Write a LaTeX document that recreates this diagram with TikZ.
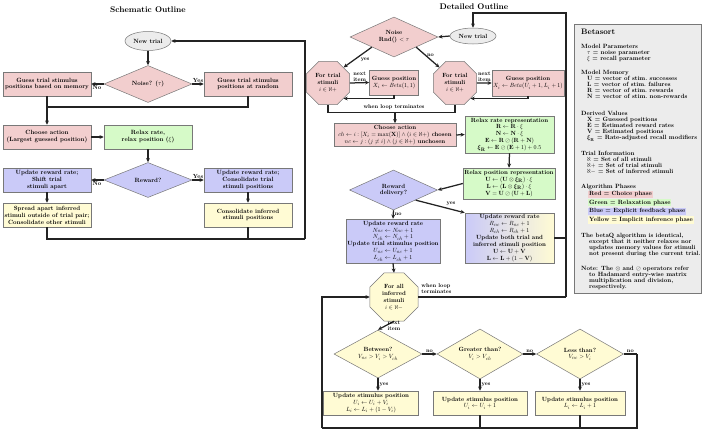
\documentclass[tikz,border=0pt]{standalone}
\usepackage{amsmath,amssymb}
\usetikzlibrary{shapes.geometric,arrows.meta,calc}
{\fontencoding{TU}\fontfamily{lmr}\fontseries{bx}\selectfont\fontseries{m}\selectfont}
\DeclareFontShape{TU}{lmr}{m}{n}{<->"[lmroman10-regular]:mapping=tex-text;"}{}
\DeclareFontShape{TU}{lmr}{bx}{n}{<->"[lmroman10-bold]:mapping=tex-text;"}{}
\DeclareFontShape{OT1}{cmr}{m}{n}{<->cmr10}{}
\DeclareFontShape{OT1}{cmr}{bx}{n}{<->cmbx10}{}
\DeclareFontShape{OT1}{cmr}{m}{it}{<->cmti10}{}
\DeclareFontShape{OML}{cmm}{m}{it}{<->cmmi10}{}
\DeclareFontShape{OML}{cmm}{b}{it}{<->cmmib10}{}
\DeclareFontShape{OMS}{cmsy}{m}{n}{<->cmsy10}{}
\DeclareFontShape{OMS}{cmsy}{b}{n}{<->cmbsy10}{}
\definecolor{pinkc}{RGB}{242,206,206}
\definecolor{greenc}{RGB}{214,250,200}
\definecolor{bluec}{RGB}{202,202,248}
\definecolor{yellowc}{RGB}{255,251,212}
\definecolor{grayc}{RGB}{236,236,236}
\definecolor{linec}{RGB}{35,35,35}
\definecolor{bordc}{RGB}{120,120,120}
\newcommand{\schfont}{\fontsize{6.1}{6.9}\selectfont\bfseries}
\newcommand{\detfont}{\fontsize{6.0}{6.9}\selectfont\bfseries}
\newcommand{\sidefont}{\fontsize{6.1}{6.0}\selectfont\bfseries}
\newcommand{\titfont}{\fontsize{8.2}{9}\selectfont\bfseries}
\newcommand{\slblfont}{\fontsize{5.9}{6}\selectfont\bfseries}
\newcommand{\dlblfont}{\fontsize{5.6}{5.9}\selectfont\bfseries}
\begin{document}
\begin{tikzpicture}[x=1pt,y=-1pt,
  base/.style={draw=bordc, line width=0.5pt, align=center, inner sep=1pt},
  sbox/.style={base, rectangle, minimum width=88pt, minimum height=24pt, font=\schfont},
  dbox/.style={base, rectangle, font=\detfont, inner sep=0.6pt},
  dia/.style={base, diamond, aspect=2, inner sep=0pt},
  oct/.style={base, regular polygon, regular polygon sides=8, inner sep=0pt, font=\detfont},
  ell/.style={base, ellipse, fill=grayc, inner sep=0pt},
  arr/.style={draw=linec, line width=1.25pt, -{Stealth[length=4.2pt,width=3.8pt]}},
  ln/.style={draw=linec, line width=1.25pt},
  slbl/.style={font=\slblfont, inner sep=1pt},
  dlbl/.style={font=\dlblfont, inner sep=1pt, align=left},
  side/.style={font=\sidefont, inner sep=0pt, anchor=north west, align=left},
  phase/.style={font=\sidefont, inner sep=0.9pt, anchor=west}]
\useasboundingbox (0,0) rectangle (703,431);
\fill[white] (0,0) rectangle (703,431);

% ---------------- Schematic outline ----------------
\node[font=\titfont] (sT) at (148,10) {Schematic Outline};
\node[ell, minimum width=46pt, minimum height=19pt, font=\schfont] (sNT) at (148,41) {New trial};
\node[dia, fill=pinkc, minimum width=88pt, minimum height=37pt, font=\schfont] (sN) at (148,84) {Noise? ($\tau$)};
\node[sbox, fill=pinkc] (sGM) at (47,84) {Guess trial stimulus\\positions based on memory};
\node[sbox, fill=pinkc] (sGR) at (248,84) {Guess trial stimulus\\positions at random};
\node[sbox, fill=pinkc] (sCA) at (47,137) {Choose action\\(Largest guessed position)};
\node[sbox, fill=greenc] (sRR) at (148,137) {Relax rate,\\relax position ($\xi$)};
\node[dia, fill=bluec, minimum width=88pt, minimum height=35pt, font=\schfont] (sR) at (148,180) {Reward?};
\node[sbox, fill=bluec] (sSA) at (47,180) {Update reward rate;\\Shift trial\\stimuli apart};
\node[sbox, fill=bluec] (sCT) at (248,180) {Update reward rate;\\Consolidate trial\\stimuli positions};
\node[sbox, fill=yellowc] (sSI) at (47,215) {Spread apart inferred\\stimuli outside of trial pair;\\Consolidate other stimuli};
\node[sbox, fill=yellowc] (sCI) at (248,215) {Consolidate inferred\\stimuli positions};

\coordinate (sJ) at (47,107);
\coordinate (sC1) at (305,239);
\draw[arr] (sNT) -- (sN);
\draw[arr] (sN.west) -- (sGM.east) node[slbl, below, pos=0.55] {No};
\draw[arr] (sN.east) -- (sGR.west) node[slbl, above, pos=0.5] {Yes};
\draw[arr] (sGM.south) -- (sCA.north);
\draw[ln] (sGR.south) |- (sJ);
\draw[arr] (sCA.east) -- (sRR.west);
\draw[arr] (sRR.south) -- (sR.north);
\draw[arr] (sR.west) -- (sSA.east) node[slbl, below, pos=0.55] {No};
\draw[arr] (sR.east) -- (sCT.west) node[slbl, above, pos=0.5] {Yes};
\draw[arr] (sSA.south) -- (sSI.north);
\draw[arr] (sCT.south) -- (sCI.north);
\draw[ln] (sSI.south) |- (sC1);
\draw[ln] (sCI.south) -- (sCI.south |- sC1);
\draw[arr] (sC1) |- (sNT.east);

% ---------------- Detailed outline ----------------
\node[font=\titfont] (dT) at (474,7) {Detailed Outline};
\node[ell, minimum width=46pt, minimum height=16pt, font=\detfont] (dNT) at (473,36) {New trial};
\node[dia, fill=pinkc, minimum width=88pt, minimum height=40pt, font=\detfont] (dN) at (394,37) {Noise\\Rnd() $<\tau$};
\node[oct, fill=pinkc, minimum size=47pt] (dOL) at (328,83) {For trial\\stimuli\\$i\in\aleph+$};
\node[dbox, fill=pinkc, minimum width=49pt, minimum height=25pt] (dGL) at (394,82.5) {Guess position\\$X_i\leftarrow \mathit{Beta}(1,1)$};
\node[oct, fill=pinkc, minimum size=47pt] (dOR) at (455,83) {For trial\\stimuli\\$i\in\aleph+$};
\node[dbox, fill=pinkc, minimum width=72pt, minimum height=26pt] (dGR) at (528,83) {Guess position\\$X_i\leftarrow \mathit{Beta}(U_i+1,L_i+1)$};
\node[dbox, fill=pinkc, minimum width=122pt, minimum height=23pt] (dCA) at (395,135) {Choose action\\$ch\leftarrow i:[X_i=\max(\mathbf{X})]\wedge(i\in\aleph+)$ chosen\\$nc\leftarrow j:(j\neq i)\wedge(j\in\aleph+)$ unchosen};
\node[dbox, fill=greenc, minimum width=89pt, minimum height=37pt] (dRR) at (509.5,134.5) {Relax rate representation\\$\mathbf{R}\leftarrow\mathbf{R}\cdot\xi$\\$\mathbf{N}\leftarrow\mathbf{N}\cdot\xi$\\$\mathbf{E}\leftarrow\mathbf{R}\oslash(\mathbf{R}+\mathbf{N})$\\$\boldsymbol{\xi}_{\mathbf{R}}\leftarrow\mathbf{E}\oslash(\mathbf{E}+1)+0.5$};
\node[dbox, fill=greenc, minimum width=92pt, minimum height=31pt] (dRP) at (509,183.5) {Relax position representation\\$\mathbf{U}\leftarrow(\mathbf{U}\otimes\boldsymbol{\xi}_{\mathbf{R}})\cdot\xi$\\$\mathbf{L}\leftarrow(\mathbf{L}\otimes\boldsymbol{\xi}_{\mathbf{R}})\cdot\xi$\\$\mathbf{V}=\mathbf{U}\oslash(\mathbf{U}+\mathbf{L})$};
\node[dia, fill=bluec, minimum width=88pt, minimum height=40pt, font=\detfont] (dRD) at (393.5,190) {Reward\\delivery?};
\node[dbox, fill=bluec, minimum width=94pt, minimum height=44pt] (dUL) at (393,241) {Update reward rate\\$N_{nc}\leftarrow N_{nc}+1$\\$N_{ch}\leftarrow N_{ch}+1$\\Update trial stimulus position\\$U_{nc}\leftarrow U_{nc}+1$\\$L_{ch}\leftarrow L_{ch}+1$};
\node[dbox, left color=bluec, right color=yellowc, minimum width=89pt, minimum height=50pt] (dUR) at (509.5,238) {Update reward rate\\$R_{nc}\leftarrow R_{nc}+1$\\$R_{ch}\leftarrow R_{ch}+1$\\Update both trial and\\inferred stimuli position\\$\mathbf{U}\leftarrow\mathbf{U}+\mathbf{V}$\\$\mathbf{L}\leftarrow\mathbf{L}+(1-\mathbf{V})$};
\node[oct, fill=yellowc, minimum size=52pt] (dOI) at (394,297) {For all\\inferred\\stimuli\\$i\in\aleph-$};
\node[dia, fill=yellowc, minimum width=88pt, minimum height=48pt, font=\detfont] (dBe) at (378,354) {Between?\\$V_{nc}>V_i>V_{ch}$};
\node[dia, fill=yellowc, minimum width=86pt, minimum height=50pt, font=\detfont] (dGt) at (480,354) {Greater than?\\$V_i>V_{ch}$};
\node[dia, fill=yellowc, minimum width=87pt, minimum height=50pt, font=\detfont] (dLt) at (580,354) {Less than?\\$V_{nc}>V_i$};
\node[dbox, fill=yellowc, minimum width=95pt, minimum height=24pt] (dBB) at (371,403) {Update stimulus position\\$U_i\leftarrow U_i+V_i$\\$L_i\leftarrow L_i+(1-V_i)$};
\node[dbox, fill=yellowc, minimum width=94pt, minimum height=24pt] (dGB) at (480,403) {Update stimulus position\\$U_i\leftarrow U_i+1$};
\node[dbox, fill=yellowc, minimum width=90pt, minimum height=24pt] (dLB) at (580,403) {Update stimulus position\\$L_i\leftarrow L_i+1$};

\coordinate (rt) at (566,13);
\coordinate (bl) at (322,428);
\coordinate (br) at (637,428);
\coordinate (dJ) at ($(dOL.south)+(0,7.5)$);

\draw[arr] (dNT.west) -- (dN.east);
\draw[arr] (dN.south west) -- (dOL.north east) node[dlbl, pos=0.45, below right] {yes};
\draw[arr] (dN.south east) -- (dOR.north west) node[dlbl, pos=0.4, right] {no};
\draw[arr] (dOL.east) -- (dGL.west) node[dlbl, midway, above, align=center] {next\\item};
\draw[arr] (dGL.south) |- (dOL.-45);
\draw[arr] (dOR.east) -- (dGR.west) node[dlbl, midway, above, align=center] {next\\item};
\draw[arr] (dGR.south) |- (dOR.-45);
\draw[ln] (dOL.south) -- (dJ) -| (dOR.south);
\node[dlbl, anchor=south] (wlt1) at (394,110.5) {when loop terminates};
\draw[arr] (dJ -| dCA.north) -- (dCA.north);
\draw[arr] (dCA.east) -- (dRR.west);
\draw[arr] (dRR.south) -- (dRP.north);
\draw[arr] (dRP.west) -- (dRD.east);
\draw[arr] (dRD.south) -- (dUL.north) node[dlbl, midway, right] {no};
\draw[arr] (dRD.south east) -- (dUR.north west) node[dlbl, pos=0.6, above right] {yes};
\draw[arr] (dUL.south) -- (dOI.north);
\draw[ln] (dUR.east) -- (dUR.east -| rt);
\draw[ln] (dOI.east) -- (dOI.east -| rt);
\node[dlbl, anchor=south west] (wlt2) at ($(dOI.east)+(2,-2)$) {when loop\\terminates};
\draw[arr] (dOI.east -| rt) -- (rt) -| (dNT.north);
\draw[arr] (dOI.south) -- (dBe.north) node[dlbl, midway, right, align=left] {next\\item};
\draw[arr] (dBe.east) -- (dGt.west) node[dlbl, midway, above] {no};
\draw[arr] (dGt.east) -- (dLt.west) node[dlbl, midway, above] {no};
\draw[ln] (dLt.east) -- (dLt.east -| br) node[dlbl, midway, above] {no};
\draw[ln] (dLt.east -| br) -- (br) -- (bl);
\draw[arr] (bl) |- (dOI.west);
\draw[arr] (dBe.south) -- (dBe.south |- dBB.north) node[dlbl, midway, right] {yes};
\draw[arr] (dGt.south) -- (dGB.north) node[dlbl, midway, right] {yes};
\draw[arr] (dLt.south) -- (dLB.north) node[dlbl, midway, right] {yes};
\draw[ln] (dBB.west) -- (dBB.west -| bl);
\draw[ln] (dGB.south) -- (dGB.south |- bl);
\draw[ln] (dLB.south) -- (dLB.south |- bl);

% ---------------- Side panel ----------------
\node[draw=bordc, fill=grayc, line width=0.5pt, anchor=north west, minimum width=127pt, minimum height=269pt, inner sep=0pt] (bp) at (574,24) {};
\node[side, font=\fontsize{7.9}{8.5}\selectfont\bfseries] (b0) at (581,28.5) {Betasort};
\node[side] (b1) at (581,44.5) {Model Parameters\\
\hspace*{6pt}$\tau$ = noise parameter\\
\hspace*{6pt}$\xi$ = recall parameter};
\node[side] (b2) at (581,70.5) {Model Memory\\
\hspace*{6pt}$\mathbf{U}$ = vector of stim.\ successes\\
\hspace*{6pt}$\mathbf{L}$ = vector of stim.\ failures\\
\hspace*{6pt}$\mathbf{R}$ = vector of stim.\ rewards\\
\hspace*{6pt}$\mathbf{N}$ = vector of stim.\ non-rewards};
\node[side] (b3) at (581,111.5) {Derived Values\\
\hspace*{6pt}$\mathbf{X}$ = Guessed positions\\
\hspace*{6pt}$\mathbf{E}$ = Estimated reward rates\\
\hspace*{6pt}$\mathbf{V}$ = Estimated positions\\
\hspace*{6pt}$\boldsymbol{\xi}_{\mathbf{R}}$ = Rate-adjusted recall modifiers};
\node[side] (b4) at (581,151.5) {Trial Information\\
\hspace*{6pt}$\aleph$ = Set of all stimuli\\
\hspace*{6pt}$\aleph+$ = Set of trial stimuli\\
\hspace*{6pt}$\aleph-$ = Set of inferred stimuli};
\node[side] (b5) at (581,184.5) {Algorithm Phases};
\node[phase, fill=pinkc] (p1) at (588,194.3) {Red = Choice phase};
\node[phase, fill=greenc] (p2) at (588,202.8) {Green = Relaxation phase};
\node[phase, fill=bluec] (p3) at (588,211.2) {Blue = Explicit feedback phase};
\node[phase, fill=yellowc] (p4) at (588,219.9) {Yellow = Implicit inference phase};
\node[side] (b6) at (581,233.5) {The betaQ algorithm is identical,\\
\hspace*{8pt}except that it neither relaxes nor\\
\hspace*{8pt}updates memory values for stimuli\\
\hspace*{8pt}not present during the current trial.};
\node[side] (b7) at (581,266) {Note: The $\otimes$ and $\oslash$ operators refer\\
\hspace*{8pt}to Hadamard entry-wise matrix\\
\hspace*{8pt}multiplication and division,\\
\hspace*{8pt}respectively.};
\end{tikzpicture}
\end{document}
